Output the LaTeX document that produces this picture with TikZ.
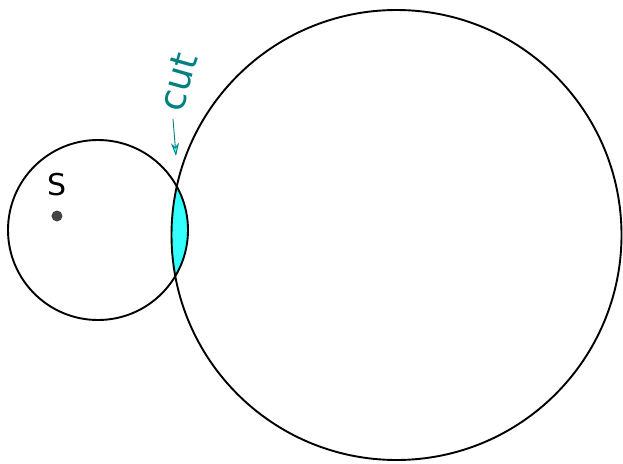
\documentclass[tikz,border=0pt]{standalone}
\usepackage{fontspec}
\setmainfont{DejaVu Sans}
\usetikzlibrary{arrows.meta}
\definecolor{teal2}{RGB}{0,128,128}
\definecolor{cyanfill}{RGB}{51,255,255}
\definecolor{dotgray}{RGB}{68,68,68}
\tikzset{
  ring/.style={draw=black, line width=1.9pt},
  lbl/.style={inner sep=0pt, font=\fontsize{30}{36}\selectfont},
  cutlbl/.style={inner sep=0pt, text=teal2, font=\fontsize{37}{42}\selectfont, rotate=74},
  cutarrow/.style={draw=teal2, line width=0.9pt, -{Stealth[length=13pt,width=8pt,color=teal2,fill=cyanfill]}}
}
\begin{document}
\begin{tikzpicture}[x=1pt,y=-1pt]
\useasboundingbox (0,0) rectangle (623,463);
\coordinate (sc) at (98,230);
\coordinate (bc) at (396.5,235);
\begin{scope}
  \clip (bc) circle[radius=225];
  \fill[cyanfill] (sc) circle[radius=90];
\end{scope}
\draw[ring] (sc) circle[radius=90];
\draw[ring] (bc) circle[radius=225];
\node[lbl] (S) at (57,185) {S};
\fill[dotgray] (57,216) circle[radius=5.5];
\node[cutlbl] (cut) at (178,82) {cut};
\coordinate (tail) at (173,119);
\coordinate (tip) at (176,156);
\draw[cutarrow] (tail) -- (tip);
\end{tikzpicture}
\end{document}
